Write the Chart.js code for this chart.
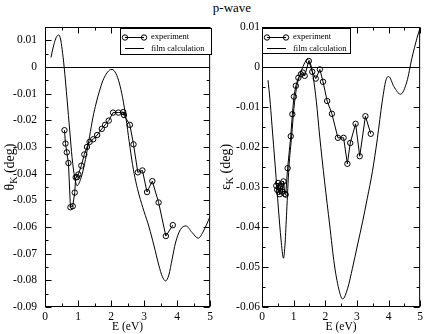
<!DOCTYPE html>
<html>
<head>
<meta charset="utf-8">
<script src="https://cdn.jsdelivr.net/npm/chart.js@4.4.1/dist/chart.umd.min.js"></script>
<style>
  body { margin: 0; background: #fff; width: 426px; height: 334px; position: relative; overflow: hidden; }
  canvas { position: absolute; top: 0; }
  #title { position: absolute; left: 202px; width: 60px; top: 0px; text-align: center;
           font: 13px 'Liberation Serif', 'Times New Roman', serif; color: #000; }
</style>
</head>
<body>
<div id="title">p-wave</div>
<canvas id="graphLeft" width="216" height="334" style="left:0px"></canvas>
<canvas id="graphRight" width="210" height="334" style="left:216px"></canvas>
<script>
// Data (E in eV, angles in deg)
var thetaExpE = [0.59, 0.62, 0.66, 0.71, 0.77, 0.84, 0.90, 0.93, 0.97, 1.01, 1.10, 1.19, 1.27, 1.35, 1.46, 1.58, 1.72, 1.82, 1.93, 2.06, 2.22, 2.37, 2.39, 2.57, 2.68, 2.81, 2.95, 3.09, 3.25, 3.44, 3.66, 3.87];
var thetaExpV = [-0.0237, -0.0287, -0.0320, -0.0360, -0.0526, -0.0522, -0.0471, -0.0414, -0.0413, -0.0403, -0.0370, -0.0328, -0.0300, -0.0281, -0.0271, -0.0255, -0.0232, -0.0217, -0.0201, -0.0171, -0.0171, -0.0169, -0.0180, -0.0217, -0.0290, -0.0395, -0.0388, -0.0469, -0.0428, -0.0508, -0.0634, -0.0593];

var thetaFilmE = [0.18, 0.25, 0.32, 0.38, 0.42, 0.47, 0.52, 0.58, 0.67, 0.75, 0.82, 0.90, 0.97, 1.05, 1.15, 1.25, 1.35, 1.45, 1.55, 1.65, 1.75, 1.85, 1.95, 2.03, 2.15, 2.25, 2.35, 2.45, 2.55, 2.65, 2.75, 2.85, 3.00, 3.15, 3.30, 3.45, 3.55, 3.65, 3.75, 3.85, 3.95, 4.10, 4.27, 4.45, 4.64, 4.80, 5.00];
var thetaFilmV = [0.0036, 0.0075, 0.0105, 0.0118, 0.0120, 0.0105, 0.0065, 0.0000, -0.0124, -0.0240, -0.0340, -0.0415, -0.0445, -0.0430, -0.0390, -0.0330, -0.0260, -0.0190, -0.0135, -0.0090, -0.0052, -0.0027, -0.0012, -0.0009, -0.0025, -0.0060, -0.0115, -0.0190, -0.0280, -0.0365, -0.0430, -0.0480, -0.0542, -0.0600, -0.0670, -0.0745, -0.0785, -0.0802, -0.0780, -0.0720, -0.0660, -0.0610, -0.0596, -0.0620, -0.0642, -0.0615, -0.0560];

var epsExpE = [0.45, 0.48, 0.51, 0.53, 0.56, 0.59, 0.62, 0.65, 0.68, 0.72, 0.75, 0.81, 0.91, 0.96, 1.01, 1.07, 1.15, 1.23, 1.29, 1.35, 1.48, 1.59, 1.70, 1.83, 1.93, 2.06, 2.21, 2.40, 2.58, 2.70, 2.79, 2.96, 3.09, 3.27, 3.44];
var epsExpV = [-0.0297, -0.0307, -0.0290, -0.0312, -0.0318, -0.0298, -0.0292, -0.0312, -0.0286, -0.0317, -0.0319, -0.0253, -0.0173, -0.0118, -0.0074, -0.0047, -0.0027, -0.0018, -0.0014, -0.0022, 0.0015, -0.0012, -0.0029, -0.0006, -0.0037, -0.0085, -0.0117, -0.0177, -0.0177, -0.0242, -0.0190, -0.0142, -0.0223, -0.0123, -0.0167];

var epsFilmE = [0.19, 0.25, 0.31, 0.42, 0.52, 0.60, 0.68, 0.73, 0.78, 0.85, 0.94, 1.01, 1.09, 1.20, 1.33, 1.44, 1.53, 1.61, 1.72, 1.82, 1.98, 2.14, 2.29, 2.45, 2.55, 2.71, 2.86, 3.02, 3.18, 3.33, 3.49, 3.65, 3.80, 3.94, 4.01, 4.17, 4.38, 4.58, 4.74, 4.90, 5.00];
var epsFilmV = [-0.0033, -0.0080, -0.0140, -0.0250, -0.0355, -0.0430, -0.0478, -0.0440, -0.0362, -0.0253, -0.0170, -0.0103, -0.0053, -0.0020, 0.0007, 0.0019, 0.0009, -0.0020, -0.0087, -0.0170, -0.0287, -0.0395, -0.0495, -0.0562, -0.0580, -0.0553, -0.0503, -0.0445, -0.0387, -0.0328, -0.0262, -0.0178, -0.0087, -0.0028, -0.0024, -0.0049, -0.0068, -0.0037, 0.0022, 0.0072, 0.0098];

var serif = "'Liberation Serif', 'Times New Roman', serif";

function toPoints(xs, ys) {
  var pts = [];
  for (var i = 0; i < xs.length; i++) {
    pts.push({x: xs[i], y: ys[i]});
  }
  return pts;
}

// ticks on all four sides, pointing inward, plus the frame and the zero line
var framePlugin = {
  id: 'frame',
  beforeDatasetsDraw: function (chart) {
    var ctx = chart.ctx, a = chart.chartArea;
    var y0 = Math.round(chart.scales.y.getPixelForValue(0)) + 0.5;
    ctx.save();
    ctx.strokeStyle = '#000';
    ctx.lineWidth = 1;
    ctx.beginPath();
    ctx.moveTo(a.left, y0);
    ctx.lineTo(a.right, y0);
    ctx.stroke();
    ctx.restore();
  },
  afterDraw: function (chart) {
    var ctx = chart.ctx, a = chart.chartArea;
    var opts = chart.options.plugins.frame;
    var xs = chart.scales.x, ys = chart.scales.y;
    var L = a.left + 0.5, R = a.right - 0.5, T = a.top + 0.5, B = a.bottom - 0.5;
    ctx.save();
    ctx.strokeStyle = '#000';
    ctx.lineWidth = 1;
    ctx.strokeRect(L, T, R - L, B - T);
    ctx.beginPath();
    xs.ticks.forEach(function (t) {
      var px = Math.round(xs.getPixelForValue(t.value)) + 0.5;
      var len = Math.abs(t.value - Math.round(t.value)) < 1e-6 ? 6 : 3;
      ctx.moveTo(px, B); ctx.lineTo(px, B - len);
      ctx.moveTo(px, T); ctx.lineTo(px, T + len);
    });
    ys.ticks.forEach(function (t) {
      var py = Math.round(ys.getPixelForValue(t.value)) + 0.5;
      var len = Math.round(t.value * 1000) % 10 === 0 ? 6 : 3;
      ctx.moveTo(L, py); ctx.lineTo(L + len, py);
      ctx.moveTo(R, py); ctx.lineTo(R - len, py);
    });
    ctx.stroke();

    // legend box
    var lg = opts.legend;
    ctx.fillStyle = '#fff';
    ctx.fillRect(lg.x + 0.5, lg.y + 0.5, lg.w, lg.h);
    ctx.strokeRect(lg.x + 0.5, lg.y + 0.5, lg.w, lg.h);
    ctx.beginPath();
    ctx.moveTo(lg.x + 5, lg.y + 9.5); ctx.lineTo(lg.x + 24, lg.y + 9.5);
    ctx.moveTo(lg.x + 5, lg.y + 20.5); ctx.lineTo(lg.x + 24, lg.y + 20.5);
    ctx.stroke();
    [lg.x + 5, lg.x + 24].forEach(function (cx) {
      ctx.beginPath();
      ctx.arc(cx, lg.y + 9.5, 2.7, 0, Math.PI * 2);
      ctx.stroke();
    });
    ctx.fillStyle = '#000';
    ctx.font = '8.5px ' + serif;
    ctx.textBaseline = 'middle';
    ctx.textAlign = 'left';
    ctx.fillText('experiment', lg.x + 31, lg.y + 9);
    ctx.fillText('film calculation', lg.x + 31, lg.y + 20.5);

    // rotated y title with subscript K
    var yt = opts.yTitle;
    var bigFont = '14px ' + serif, subFont = '10px ' + serif;
    ctx.font = bigFont;
    var w1 = ctx.measureText(yt.sym).width;
    var w3 = ctx.measureText(' (deg)').width;
    ctx.font = subFont;
    var w2 = ctx.measureText('K').width;
    var total = w1 + w2 + w3;
    ctx.translate(yt.x, (a.top + a.bottom) / 2);
    ctx.rotate(-Math.PI / 2);
    ctx.textBaseline = 'alphabetic';
    ctx.font = bigFont;
    ctx.fillText(yt.sym, -total / 2, 5);
    ctx.font = subFont;
    ctx.fillText('K', -total / 2 + w1, 8);
    ctx.font = bigFont;
    ctx.fillText(' (deg)', -total / 2 + w1 + w2, 5);
    ctx.restore();
  }
};

function yLabel(v) {
  var k = Math.round(v * 1000);
  if (k % 10 !== 0) return '';
  if (k === 0) return '0';
  return (k / 1000).toFixed(2);
}

function makePanel(canvasId, expE, expV, filmE, filmV, yMin, yMax, yWidth, yPad, legend, yTitle) {
  var canvas = document.getElementById(canvasId);
  var ctx = canvas.getContext('2d');
  var tickFont = {family: serif, size: 11.5};

  var chart = new Chart(ctx, {
    type: 'scatter',
    data: {
      datasets: [
        {
          label: 'experiment',
          data: toPoints(expE, expV),
          showLine: true,
          borderColor: '#000',
          borderWidth: 1,
          pointRadius: 2.7,
          pointBorderWidth: 1,
          pointBackgroundColor: 'rgba(0,0,0,0)',
          pointBorderColor: '#000'
        },
        {
          label: 'film calculation',
          data: toPoints(filmE, filmV),
          showLine: true,
          borderColor: '#000',
          borderWidth: 1,
          pointRadius: 0,
          cubicInterpolationMode: 'monotone'
        }
      ]
    },
    options: {
      responsive: false,
      animation: false,
      layout: {padding: {top: 27, right: 4, left: 0, bottom: 0}},
      plugins: {
        legend: {display: false},
        tooltip: {enabled: false},
        frame: {legend: legend, yTitle: yTitle}
      },
      scales: {
        x: {
          type: 'linear', min: 0, max: 5,
          afterFit: function (s) { s.height = 27; },
          grid: {display: false, drawTicks: false},
          border: {display: false},
          ticks: {
            stepSize: 0.5, autoSkip: false, maxRotation: 0, padding: 3, color: '#000', font: tickFont,
            callback: function (v) { return Math.abs(v - Math.round(v)) < 1e-6 ? String(Math.round(v)) : ''; }
          },
          title: {display: true, text: 'E (eV)', color: '#000', font: {family: serif, size: 11.5}, padding: 0}
        },
        y: {
          type: 'linear', min: yMin, max: yMax,
          afterFit: function (s) { s.width = yWidth; },
          grid: {display: false, drawTicks: false},
          border: {display: false},
          ticks: {stepSize: 0.005, autoSkip: false, padding: yPad, color: '#000', font: tickFont, callback: yLabel}
        }
      }
    },
    plugins: [framePlugin]
  });
  return chart;
}

makePanel('graphLeft', thetaExpE, thetaExpV, thetaFilmE, thetaFilmV, -0.09, 0.015, 45, 8,
  {x: 120, y: 28, w: 91, h: 26}, {x: 9, sym: '\u03B8'});
makePanel('graphRight', epsExpE, epsExpV, epsFilmE, epsFilmV, -0.06, 0.01, 46, 2,
  {x: 46, y: 28, w: 88, h: 25}, {x: 9, sym: '\u03B5'});
</script>
</body>
</html>
